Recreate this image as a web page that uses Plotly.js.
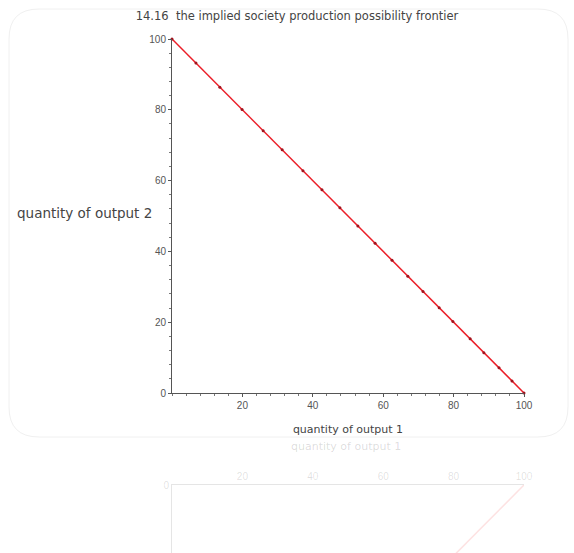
<!DOCTYPE html>
<html>
<head>
<meta charset="utf-8">
<script src="https://cdn.plot.ly/plotly-3.0.1.min.js"></script>
<style>html,body{margin:0;padding:0;background:#fff;}#chart{width:574px;height:553px;}</style>
</head>
<body>
<div id="chart"></div>
<script>
// Data
var output1 = [0, 6.8, 13.6, 19.9, 25.9, 31.3, 37.2, 42.6, 47.7, 52.8, 57.7, 62.5, 67.0, 71.3, 75.9, 79.8, 84.7, 88.6, 92.9, 96.6, 100];
var output2 = [100, 93.2, 86.4, 80.1, 74.1, 68.7, 62.8, 57.4, 52.3, 47.2, 42.3, 37.5, 33.0, 28.7, 24.1, 20.2, 15.3, 11.4, 7.1, 3.4, 0];
var xTickVals = [20, 40, 60, 80, 100];
var yTickVals = [0, 20, 40, 60, 80, 100];
var chartTitle = "14.16  the implied society production possibility frontier";
var xTitle = "quantity of output 1";
var yTitle = "quantity of output 2";

var FONT = "Liberation Sans, Arial, sans-serif";
var WFONT = "DejaVu Sans, Verdana, sans-serif";
var W = 574, H = 553;
function px(x){return x/W;}
function py(y){return 1 - y/H;}

var traces = [
  {
    x: output1, y: output2, type: 'scatter', mode: 'lines+markers',
    line: {color: 'rgb(235,30,40)', width: 1.5},
    marker: {color: 'rgb(160,20,30)', size: 3},
    cliponaxis: false, hoverinfo: 'skip', xaxis: 'x', yaxis: 'y'
  },
  {
    x: output1, y: output2, type: 'scatter', mode: 'lines',
    line: {color: 'rgba(235,20,20,0.12)', width: 1.5},
    cliponaxis: true, hoverinfo: 'skip', xaxis: 'x2', yaxis: 'y2'
  }
];

// rounded frame
var x0 = px(9), x1 = px(568), yt = py(9), yb = py(437);
var rx = 30/W, ry = 30/H;
var framePath = 'M ' + (x0+rx) + ' ' + yt + ' L ' + (x1-rx) + ' ' + yt +
  ' Q ' + x1 + ' ' + yt + ' ' + x1 + ' ' + (yt-ry) +
  ' L ' + x1 + ' ' + (yb+ry) + ' Q ' + x1 + ' ' + yb + ' ' + (x1-rx) + ' ' + yb +
  ' L ' + (x0+rx) + ' ' + yb + ' Q ' + x0 + ' ' + yb + ' ' + x0 + ' ' + (yb+ry) +
  ' L ' + x0 + ' ' + (yt-ry) + ' Q ' + x0 + ' ' + yt + ' ' + (x0+rx) + ' ' + yt + ' Z';

var layout = {
  width: W, height: H,
  margin: {l: 0, r: 0, t: 0, b: 0},
  paper_bgcolor: '#fff', plot_bgcolor: 'rgba(0,0,0,0)',
  showlegend: false,
  font: {family: FONT, color: '#444', size: 10},
  title: {text: chartTitle, x: px(297), xanchor: 'center', y: py(16), yanchor: 'middle',
          font: {family: WFONT, size: 11.5, color: '#444'}},
  xaxis: {
    domain: [px(172), px(524)], range: [0, 100], anchor: 'y',
    showline: true, linecolor: '#555', linewidth: 1,
    showgrid: false, zeroline: false,
    tickmode: 'array', tickvals: xTickVals, ticks: 'outside', ticklen: 3, tickcolor: '#555',
    minor: {tickmode: 'linear', tick0: 0, dtick: 4, ticks: 'outside', ticklen: 2, tickcolor: '#777'},
    tickfont: {family: FONT, size: 10, color: '#555'},
    title: {text: xTitle, standoff: 15, font: {family: WFONT, size: 11, color: '#444'}}
  },
  yaxis: {
    domain: [py(393), py(39)], range: [0, 100], anchor: 'x',
    showline: true, linecolor: '#555', linewidth: 1,
    showgrid: false, zeroline: false,
    tickmode: 'array', tickvals: yTickVals, ticks: 'outside', ticklen: 3, tickcolor: '#555',
    minor: {tickmode: 'linear', tick0: 0, dtick: 4, ticks: 'outside', ticklen: 2, tickcolor: '#777'},
    tickfont: {family: FONT, size: 10, color: '#555'}
  },
  xaxis2: {
    domain: [px(172), px(524)], range: [0, 100], anchor: 'y2', side: 'top',
    showline: true, linecolor: 'rgba(0,0,0,0.1)', linewidth: 1,
    showgrid: false, zeroline: false,
    tickmode: 'array', tickvals: xTickVals, ticks: '',
    tickfont: {family: FONT, size: 10, color: 'rgba(0,0,0,0.13)'}
  },
  yaxis2: {
    domain: [0, py(485)], range: [19.2, 0], anchor: 'x2',
    showline: true, linecolor: 'rgba(0,0,0,0.1)', linewidth: 1,
    showgrid: false, zeroline: false,
    tickmode: 'array', tickvals: [0], ticks: '',
    tickfont: {family: FONT, size: 10, color: 'rgba(0,0,0,0.13)'}
  },
  annotations: [
    {text: yTitle, xref: 'paper', yref: 'paper', x: px(84), y: py(213),
     xanchor: 'center', yanchor: 'middle', showarrow: false,
     font: {family: WFONT, size: 13.5, color: '#444'}},
    {text: xTitle, xref: 'paper', yref: 'paper', x: px(346), y: py(446),
     xanchor: 'center', yanchor: 'middle', showarrow: false,
     font: {family: WFONT, size: 11, color: 'rgba(0,0,0,0.15)'}}
  ],
  shapes: [
    {type: 'path', xref: 'paper', yref: 'paper', path: framePath,
     line: {color: '#f0f0f0', width: 1}, layer: 'below'}
  ]
};

Plotly.newPlot('chart', traces, layout, {staticPlot: true, displayModeBar: false});
</script>
</body>
</html>
